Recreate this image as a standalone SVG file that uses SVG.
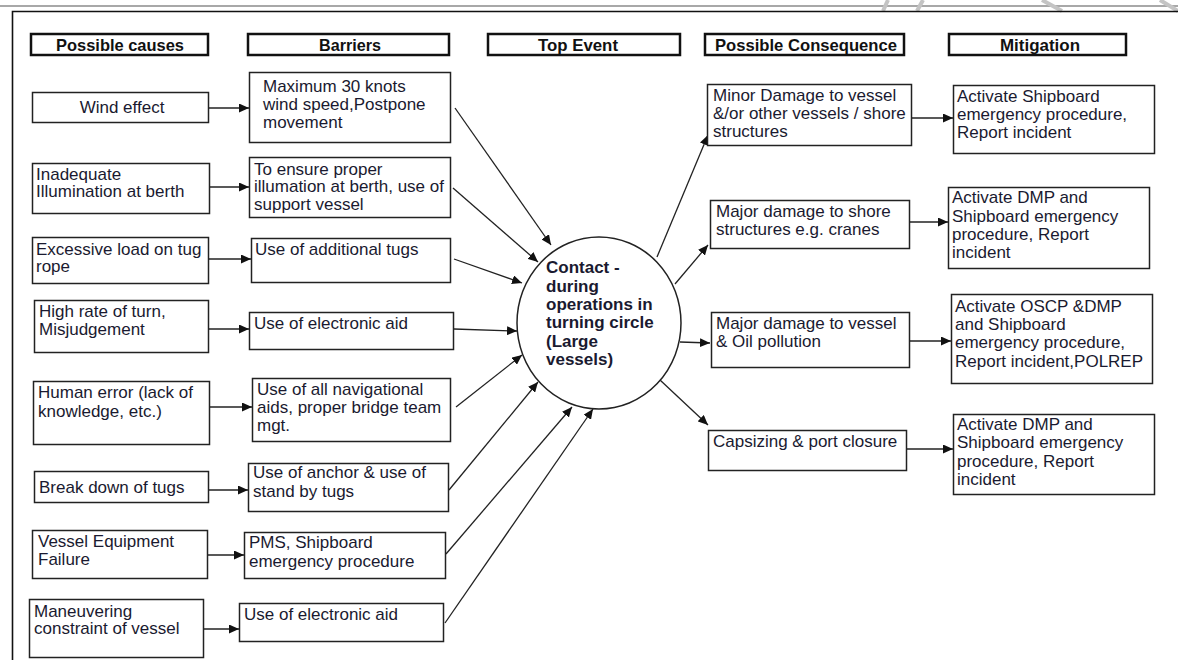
<svg xmlns="http://www.w3.org/2000/svg" width="1178" height="660" viewBox="0 0 1178 660">
  <style>
    .box { fill: #ffffff; stroke: #222222; stroke-width: 1.5; }
    .hbox { fill: #ffffff; stroke: #111111; stroke-width: 2.5; }
    .t { font-family: "Liberation Sans", Arial, sans-serif; font-size: 17px; fill: #1a1a30; }
    .h { font-family: "Liberation Sans Narrow", "Liberation Sans", Arial, sans-serif; font-size: 17px; font-weight: bold; fill: #111111; }
    .ct { font-family: "Liberation Sans", Arial, sans-serif; font-size: 17px; font-weight: bold; fill: #1a1a30; }
    .c { text-anchor: middle; }
    .ln { stroke: #222222; stroke-width: 1.3; fill: none; marker-end: url(#ah); }
  </style>
  <defs>
    <marker id="ah" markerUnits="userSpaceOnUse" markerWidth="11" markerHeight="9" refX="10" refY="4.5" orient="auto">
      <path d="M0,0 L10,4.5 L0,9 Z" fill="#111111"/>
    </marker>
  </defs>

  <rect x="0" y="0" width="1178" height="660" fill="#ffffff"/>

  <!-- page header rule and slanted decoration -->
  <g id="page-header">
    <line x1="0" y1="6" x2="1178" y2="6" stroke="#a8a8a8" stroke-width="2"/>
    <g stroke="#c4c4c4" stroke-width="4">
      <line x1="883" y1="11" x2="888" y2="0"/>
      <line x1="917" y1="11" x2="923" y2="0"/>
      <line x1="1042" y1="0" x2="1062" y2="11"/>
      <line x1="1160" y1="0" x2="1178" y2="11"/>
    </g>
  </g>

  <!-- outer frame -->
  <g id="frame">
    <path d="M12.5,662 L12.5,11.5 L1180,11.5" fill="none" stroke="#111111" stroke-width="1.6"/>
  </g>

  <!-- column headings -->
  <g id="headings">
    <g id="h-causes">
      <rect class="hbox" x="31" y="34" width="177" height="21"/>
      <text class="h c" x="120" y="50.5" textLength="128" lengthAdjust="spacingAndGlyphs">Possible causes</text>
    </g>
    <g id="h-barriers">
      <rect class="hbox" x="248" y="34" width="201" height="21"/>
      <text class="h c" x="350" y="50.5" textLength="62" lengthAdjust="spacingAndGlyphs">Barriers</text>
    </g>
    <g id="h-top">
      <rect class="hbox" x="488" y="34" width="192" height="21"/>
      <text class="h c" x="578" y="50.5" textLength="80" lengthAdjust="spacingAndGlyphs">Top Event</text>
    </g>
    <g id="h-consequence">
      <rect class="hbox" x="705" y="34" width="199" height="21"/>
      <text class="h c" x="806" y="50.5" textLength="182" lengthAdjust="spacingAndGlyphs">Possible Consequence</text>
    </g>
    <g id="h-mitigation">
      <rect class="hbox" x="949" y="34" width="177" height="21"/>
      <text class="h c" x="1040" y="50.5" textLength="80" lengthAdjust="spacingAndGlyphs">Mitigation</text>
    </g>
  </g>

  <!-- connectors -->
  <g id="connectors">
    <!-- causes to barriers -->
    <line class="ln" x1="208" y1="108" x2="249" y2="108"/>
    <line class="ln" x1="209" y1="187" x2="249" y2="187"/>
    <line class="ln" x1="208" y1="259" x2="251" y2="259"/>
    <line class="ln" x1="208" y1="329" x2="249" y2="329"/>
    <line class="ln" x1="209" y1="407" x2="252" y2="407"/>
    <line class="ln" x1="208" y1="490" x2="248" y2="490"/>
    <line class="ln" x1="207" y1="555" x2="244" y2="555"/>
    <line class="ln" x1="203" y1="629" x2="239" y2="629"/>
    <!-- barriers to top event -->
    <line class="ln" x1="455" y1="108" x2="551" y2="245"/>
    <line class="ln" x1="453" y1="188" x2="538" y2="262"/>
    <line class="ln" x1="454" y1="259" x2="522" y2="283"/>
    <line class="ln" x1="454" y1="329" x2="517" y2="331"/>
    <line class="ln" x1="456" y1="407" x2="522" y2="355"/>
    <line class="ln" x1="449" y1="490" x2="538" y2="382"/>
    <line class="ln" x1="446" y1="554" x2="572" y2="407"/>
    <line class="ln" x1="445" y1="623" x2="593" y2="409"/>
    <!-- top event to consequences -->
    <line class="ln" x1="657" y1="257" x2="708" y2="135"/>
    <line class="ln" x1="675" y1="284" x2="708" y2="245"/>
    <line class="ln" x1="680" y1="342" x2="710" y2="343"/>
    <line class="ln" x1="660" y1="380" x2="708" y2="425"/>
    <!-- consequences to mitigation -->
    <line class="ln" x1="911" y1="118" x2="953" y2="118"/>
    <line class="ln" x1="909" y1="222" x2="948" y2="222"/>
    <line class="ln" x1="909" y1="341" x2="951" y2="341"/>
    <line class="ln" x1="906" y1="449" x2="953" y2="449"/>
  </g>

  <!-- possible causes -->
  <g id="cause-wind">
    <rect class="box" x="32.5" y="92.5" width="176" height="30"/>
    <text class="t c" x="122" y="113">Wind effect</text>
  </g>
  <g id="cause-illumination">
    <rect class="box" x="32.5" y="163.5" width="177" height="50"/>
    <text class="t" x="36" y="180">Inadequate</text>
    <text class="t" x="36" y="197">Illumination  at berth</text>
  </g>
  <g id="cause-load">
    <rect class="box" x="32.5" y="237.5" width="176" height="46"/>
    <text class="t" x="36" y="255">Excessive load on tug</text>
    <text class="t" x="36" y="272">rope</text>
  </g>
  <g id="cause-turn">
    <rect class="box" x="34.5" y="300.5" width="174" height="52"/>
    <text class="t" x="39" y="317">High rate of turn,</text>
    <text class="t" x="39" y="335">Misjudgement</text>
  </g>
  <g id="cause-human">
    <rect class="box" x="33.5" y="381.5" width="176" height="63"/>
    <text class="t" x="38" y="398">Human error (lack of</text>
    <text class="t" x="38" y="417">knowledge, etc.)</text>
  </g>
  <g id="cause-tugs">
    <rect class="box" x="34.5" y="471.5" width="174" height="31"/>
    <text class="t" x="39" y="493">Break down of tugs</text>
  </g>
  <g id="cause-equipment">
    <rect class="box" x="32.5" y="530.5" width="175" height="48"/>
    <text class="t" x="38" y="547">Vessel Equipment</text>
    <text class="t" x="38" y="565">Failure</text>
  </g>
  <g id="cause-maneuvering">
    <rect class="box" x="29.5" y="599.5" width="174" height="58"/>
    <text class="t" x="34" y="617">Maneuvering</text>
    <text class="t" x="34" y="634">constraint of vessel</text>
  </g>

  <!-- barriers -->
  <g id="barrier-wind">
    <rect class="box" x="249.5" y="72.5" width="201" height="70"/>
    <text class="t" x="263" y="92">Maximum 30  knots</text>
    <text class="t" x="263" y="110">wind speed,Postpone</text>
    <text class="t" x="263" y="128">movement</text>
  </g>
  <g id="barrier-illumination">
    <rect class="box" x="249.5" y="157.5" width="201" height="60"/>
    <text class="t" x="254" y="175">To ensure  proper</text>
    <text class="t" x="254" y="192">illumation at berth, use of</text>
    <text class="t" x="254" y="210">support vessel</text>
  </g>
  <g id="barrier-tugs">
    <rect class="box" x="251.5" y="238.5" width="199" height="44"/>
    <text class="t" x="255" y="255">Use of additional tugs</text>
  </g>
  <g id="barrier-aid-1">
    <rect class="box" x="249.5" y="312.5" width="204" height="37"/>
    <text class="t" x="254" y="329">Use of electronic aid</text>
  </g>
  <g id="barrier-navaids">
    <rect class="box" x="252.5" y="378.5" width="198" height="63"/>
    <text class="t" x="257" y="395">Use of all navigational</text>
    <text class="t" x="257" y="413">aids, proper bridge team</text>
    <text class="t" x="257" y="431">mgt.</text>
  </g>
  <g id="barrier-anchor">
    <rect class="box" x="248.5" y="463.5" width="200" height="48"/>
    <text class="t" x="253" y="478">Use of anchor &amp; use of</text>
    <text class="t" x="253" y="497">stand by tugs</text>
  </g>
  <g id="barrier-pms">
    <rect class="box" x="244.5" y="532.5" width="201" height="46"/>
    <text class="t" x="249" y="548">PMS, Shipboard</text>
    <text class="t" x="249" y="567">emergency procedure</text>
  </g>
  <g id="barrier-aid-2">
    <rect class="box" x="239.5" y="603.5" width="204" height="38"/>
    <text class="t" x="244" y="620">Use of electronic aid</text>
  </g>

  <!-- top event -->
  <g id="top-event">
    <ellipse cx="599" cy="323" rx="82" ry="86" fill="#ffffff" stroke="#222222" stroke-width="1.5"/>
    <text class="ct" x="546" y="273">Contact -</text>
    <text class="ct" x="546" y="292">during</text>
    <text class="ct" x="546" y="310">operations in</text>
    <text class="ct" x="546" y="328">turning circle</text>
    <text class="ct" x="546" y="347">(Large</text>
    <text class="ct" x="546" y="365">vessels)</text>
  </g>

  <!-- possible consequences -->
  <g id="cons-minor">
    <rect class="box" x="707.5" y="84.5" width="204" height="61"/>
    <text class="t" x="713" y="101">Minor Damage to vessel</text>
    <text class="t" x="713" y="119">&amp;/or other vessels /  shore</text>
    <text class="t" x="713" y="137">structures</text>
  </g>
  <g id="cons-shore">
    <rect class="box" x="710.5" y="200.5" width="199" height="48"/>
    <text class="t" x="716" y="217">Major damage to shore</text>
    <text class="t" x="716" y="235">structures e.g. cranes</text>
  </g>
  <g id="cons-vessel">
    <rect class="box" x="711.5" y="312.5" width="198" height="55"/>
    <text class="t" x="716" y="329">Major damage to vessel</text>
    <text class="t" x="716" y="347">&amp; Oil pollution</text>
  </g>
  <g id="cons-capsizing">
    <rect class="box" x="708.5" y="430.5" width="198" height="40"/>
    <text class="t" x="713" y="447">Capsizing &amp; port closure</text>
  </g>

  <!-- mitigation -->
  <g id="mit-1">
    <rect class="box" x="953.5" y="85.5" width="201" height="68"/>
    <text class="t" x="957" y="102">Activate Shipboard</text>
    <text class="t" x="957" y="120">emergency procedure,</text>
    <text class="t" x="957" y="138">Report incident</text>
  </g>
  <g id="mit-2">
    <rect class="box" x="948.5" y="187.5" width="201" height="81"/>
    <text class="t" x="952" y="203">Activate DMP and</text>
    <text class="t" x="952" y="222">Shipboard emergency</text>
    <text class="t" x="952" y="240">procedure, Report</text>
    <text class="t" x="952" y="258">incident</text>
  </g>
  <g id="mit-3">
    <rect class="box" x="951.5" y="294.5" width="201" height="89"/>
    <text class="t" x="955" y="312">Activate OSCP &amp;DMP</text>
    <text class="t" x="955" y="330">and Shipboard</text>
    <text class="t" x="955" y="348">emergency procedure,</text>
    <text class="t" x="955" y="367">Report incident,POLREP</text>
  </g>
  <g id="mit-4">
    <rect class="box" x="953.5" y="414.5" width="201" height="80"/>
    <text class="t" x="957" y="430">Activate DMP and</text>
    <text class="t" x="957" y="448">Shipboard emergency</text>
    <text class="t" x="957" y="467">procedure, Report</text>
    <text class="t" x="957" y="485">incident</text>
  </g>
</svg>
